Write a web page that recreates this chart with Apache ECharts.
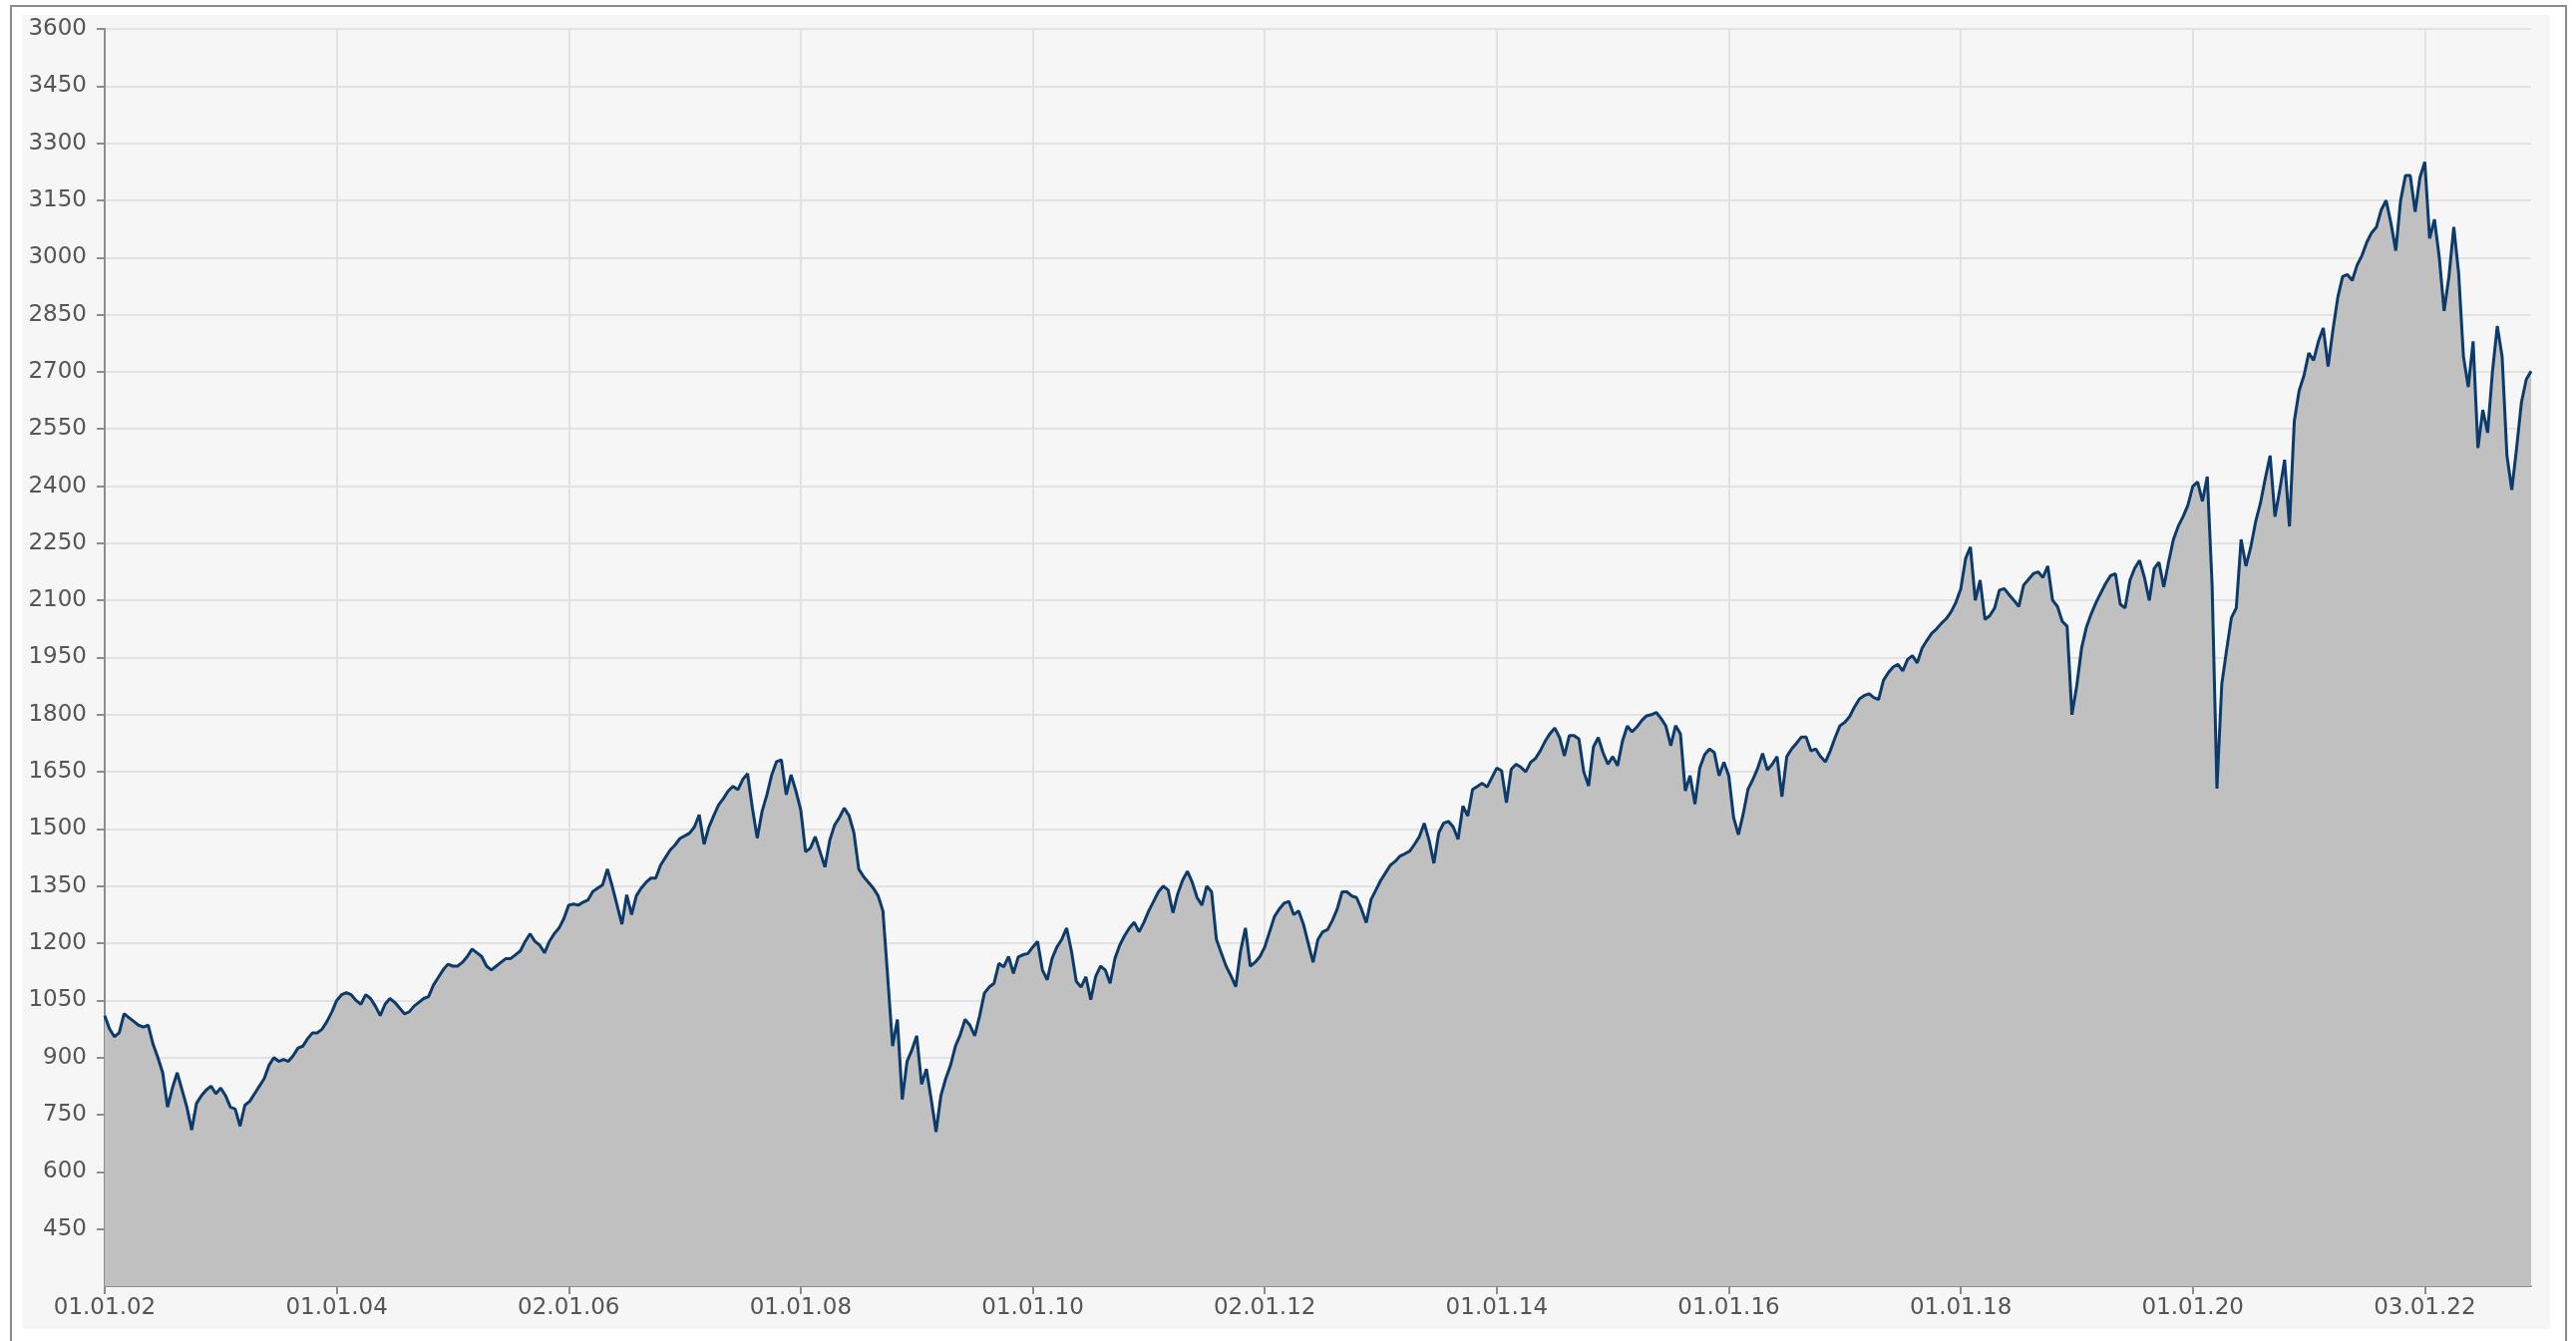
<!DOCTYPE html>
<html>
<head>
<meta charset="utf-8">
<script src="https://cdn.jsdelivr.net/npm/echarts@6/dist/echarts.min.js"></script>
<style>
html,body{margin:0;padding:0;background:#ffffff;overflow:hidden;}
#c{width:2583px;height:1345px;}
</style>
</head>
<body>
<div id="c"></div>
<script>
// X tick labels (first trading day of every second year)
const tickLabels = ['01.01.02','01.01.04','02.01.06','01.01.08','01.01.10','02.01.12','01.01.14','01.01.16','01.01.18','01.01.20','03.01.22'];

// Y axis
const yMin = 300, yMax = 3600, yStep = 150;

// Semi-monthly values (1st and 15th of each month)
const v2002 = [1010, 975, 955, 965, 1015, 1005, 995, 985, 980, 985, 935, 900, 860, 770, 820, 860, 815, 770, 710, 780, 800, 815, 825, 805];
const v2003 = [820, 800, 770, 765, 720, 775, 785, 805, 825, 845, 880, 900, 890, 895, 890, 905, 925, 930, 950, 965, 965, 975, 995, 1020];
const v2004 = [1050, 1065, 1070, 1065, 1050, 1040, 1065, 1055, 1035, 1010, 1040, 1055, 1045, 1030, 1015, 1020, 1035, 1045, 1055, 1060, 1090, 1110, 1130, 1145];
const v2005 = [1140, 1140, 1150, 1165, 1185, 1175, 1165, 1140, 1130, 1140, 1150, 1160, 1160, 1170, 1180, 1205, 1225, 1205, 1195, 1175, 1205, 1225, 1240, 1265];
const v2006 = [1300, 1303, 1300, 1308, 1314, 1336, 1345, 1353, 1395, 1350, 1300, 1250, 1327, 1275, 1325, 1345, 1360, 1371, 1371, 1405, 1425, 1445, 1458, 1475];
const v2007 = [1482, 1489, 1505, 1537, 1460, 1505, 1535, 1563, 1580, 1600, 1612, 1603, 1630, 1645, 1555, 1476, 1546, 1590, 1642, 1677, 1681, 1590, 1642, 1600];
const v2008 = [1550, 1440, 1450, 1480, 1440, 1400, 1470, 1510, 1530, 1555, 1535, 1490, 1395, 1375, 1360, 1345, 1325, 1285, 1110, 930, 1000, 790, 890, 920];
const v2009 = [957, 830, 870, 790, 705, 800, 845, 880, 930, 960, 1000, 985, 957, 1009, 1069, 1085, 1095, 1147, 1138, 1165, 1121, 1164, 1170, 1173];
const v2010 = [1190, 1205, 1130, 1104, 1160, 1190, 1210, 1240, 1180, 1100, 1085, 1112, 1052, 1112, 1140, 1130, 1095, 1160, 1195, 1220, 1240, 1255, 1230, 1255];
const v2011 = [1285, 1310, 1335, 1350, 1340, 1280, 1330, 1365, 1389, 1360, 1320, 1300, 1350, 1335, 1210, 1175, 1140, 1115, 1086, 1180, 1240, 1140, 1150, 1165];
const v2012 = [1190, 1230, 1270, 1290, 1305, 1310, 1275, 1285, 1250, 1200, 1150, 1210, 1230, 1236, 1260, 1290, 1335, 1335, 1324, 1320, 1290, 1254, 1315, 1340];
const v2013 = [1365, 1385, 1405, 1415, 1429, 1435, 1442, 1460, 1480, 1515, 1470, 1410, 1490, 1515, 1520, 1505, 1473, 1560, 1534, 1604, 1612, 1620, 1610, 1635];
const v2014 = [1660, 1653, 1569, 1657, 1670, 1662, 1650, 1675, 1685, 1705, 1730, 1750, 1765, 1740, 1692, 1745, 1745, 1736, 1650, 1613, 1715, 1740, 1700, 1670];
const v2015 = [1690, 1666, 1730, 1770, 1755, 1768, 1785, 1797, 1800, 1806, 1790, 1770, 1719, 1771, 1750, 1600, 1640, 1565, 1660, 1695, 1710, 1701, 1640, 1675];
const v2016 = [1640, 1530, 1485, 1540, 1605, 1630, 1660, 1698, 1655, 1670, 1690, 1585, 1690, 1710, 1725, 1741, 1741, 1705, 1710, 1690, 1676, 1705, 1740, 1771];
const v2017 = [1780, 1795, 1820, 1841, 1850, 1855, 1845, 1840, 1890, 1910, 1925, 1932, 1915, 1945, 1955, 1936, 1975, 1995, 2014, 2025, 2040, 2052, 2070, 2095];
const v2018 = [2130, 2210, 2240, 2100, 2153, 2050, 2060, 2080, 2127, 2131, 2115, 2100, 2084, 2140, 2155, 2170, 2175, 2160, 2190, 2100, 2084, 2045, 2032, 1800];
const v2019 = [1876, 1975, 2030, 2065, 2095, 2120, 2145, 2165, 2170, 2090, 2080, 2153, 2185, 2205, 2160, 2100, 2183, 2200, 2135, 2201, 2260, 2295, 2320, 2350];
const v2020 = [2399, 2411, 2360, 2425, 2140, 1606, 1880, 1970, 2055, 2080, 2260, 2190, 2240, 2306, 2355, 2420, 2480, 2320, 2390, 2469, 2294, 2570, 2650, 2690];
const v2021 = [2749, 2730, 2780, 2815, 2714, 2810, 2895, 2950, 2955, 2940, 2980, 3005, 3040, 3065, 3080, 3125, 3150, 3090, 3018, 3150, 3215, 3215, 3120, 3210];
const v2022 = [3251, 3050, 3100, 3000, 2860, 2950, 3080, 2960, 2740, 2660, 2780, 2500, 2600, 2540, 2700, 2820, 2740, 2480, 2390, 2500, 2620, 2680, 2702];

const years = [2002,2003,2004,2005,2006,2007,2008,2009,2010,2011,2012,2013,2014,2015,2016,2017,2018,2019,2020,2021,2022];
const yearValues = [v2002,v2003,v2004,v2005,v2006,v2007,v2008,v2009,v2010,v2011,v2012,v2013,v2014,v2015,v2016,v2017,v2018,v2019,v2020,v2021,v2022];

const pad = n => (n < 10 ? '0' : '') + n;
const categories = [];
const values = [];
yearValues.forEach((arr, yi) => {
  const yy = String(years[yi]).slice(2);
  arr.forEach((v, k) => {
    const m = Math.floor(k / 2) + 1;
    let s = (k % 2 === 0 ? '01' : '15') + '.' + pad(m) + '.' + yy;
    if (k === 0) {
      const t = tickLabels.find(t => t.slice(3) === s.slice(3));
      if (t) s = t;
    }
    categories.push(s);
    values.push(v);
  });
});
const tickSet = new Set(tickLabels);
const isTick = (i, v) => tickSet.has(v);

const chart = echarts.init(document.getElementById('c'), null, {renderer: 'canvas'});
const font = 'DejaVu Sans';
chart.setOption({
  animation: false,
  backgroundColor: '#ffffff',
  graphic: [
    {type: 'rect', z: -100, silent: true, shape: {x: 11, y: 6, width: 2562, height: 1360},
     style: {fill: '#ffffff', stroke: '#8a8a8a', lineWidth: 2}},
    {type: 'rect', z: -99, silent: true, shape: {x: 22, y: 15, width: 2535, height: 1318},
     style: {fill: '#f6f6f6'}}
  ],
  grid: {left: 105, top: 29, right: 45, bottom: 55, containLabel: false},
  xAxis: {
    type: 'category',
    data: categories,
    boundaryGap: false,
    axisLine: {lineStyle: {color: '#8c8c8c', width: 2}},
    axisTick: {show: true, interval: isTick, length: 8, lineStyle: {color: '#8c8c8c', width: 2}},
    axisLabel: {interval: isTick, color: '#555555', fontFamily: font, fontSize: 23, margin: 11},
    splitLine: {show: true, interval: isTick, lineStyle: {color: '#e2e2e2', width: 2}}
  },
  yAxis: {
    type: 'value',
    min: yMin, max: yMax, interval: yStep,
    axisLine: {show: true, lineStyle: {color: '#8c8c8c', width: 2}},
    axisTick: {show: true, length: 8, lineStyle: {color: '#8c8c8c', width: 2}},
    axisLabel: {showMinLabel: false, color: '#555555', fontFamily: font, fontSize: 23, margin: 18,
                formatter: v => String(v)},
    splitLine: {show: true, lineStyle: {color: '#e2e2e2', width: 2}}
  },
  series: [{
    type: 'line',
    data: values,
    symbol: 'none',
    lineStyle: {color: '#0b3a6b', width: 3},
    areaStyle: {color: '#c0c0c0', opacity: 1},
    z: 3
  }]
});
</script>
</body>
</html>
